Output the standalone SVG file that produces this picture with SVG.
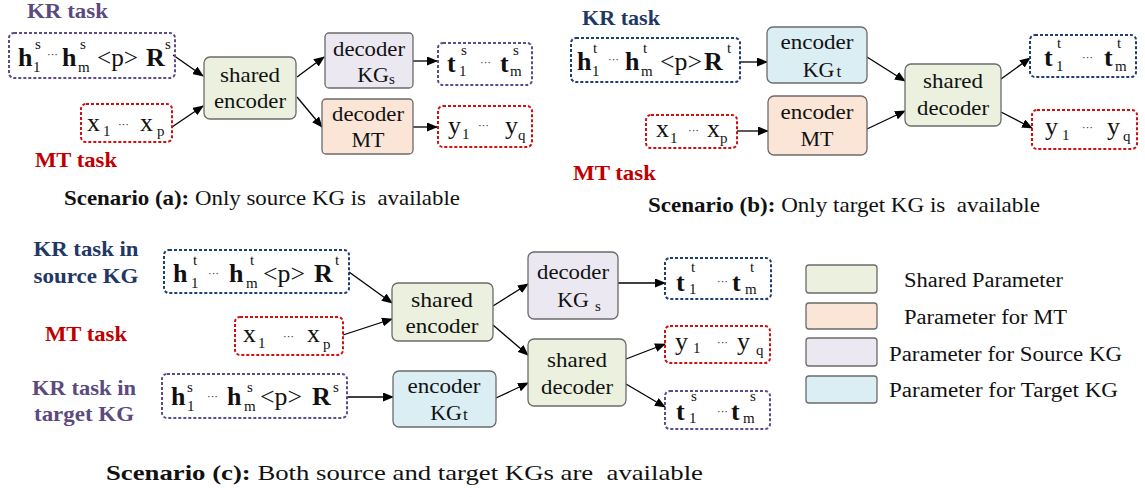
<svg xmlns="http://www.w3.org/2000/svg" width="1145" height="497" viewBox="0 0 1145 497" font-family="'Times New Roman', 'Liberation Serif', Tinos, 'DejaVu Serif', serif">
<defs>
<marker id="ah" markerUnits="userSpaceOnUse" markerWidth="11" markerHeight="9" refX="10" refY="4.5" orient="auto">
<path d="M0,0 L11,4.5 L0,9 z" fill="#000"/>
</marker>
<style>
text{font-family:'Times New Roman','Liberation Serif',Tinos,'DejaVu Serif',serif;fill:#111}
.box{stroke:#6b6b6b;stroke-width:1.3}
.g{fill:#ebf1de}.o{fill:#fbe5d6}.p{fill:#ebe8f1}.b{fill:#dbeef4}
.dp,.db,.dr{fill:none;stroke-width:2;stroke-dasharray:3 2}
.dp{stroke:#5f4b8b}.db{stroke:#203d72}.dr{stroke:#d01010}
.lbl{font-size:22px;text-anchor:middle}
.m{font-size:26px}
.bd{font-weight:bold}
.sm{font-size:15px}
.dots{font-size:11px}
.task{font-size:21px;font-weight:bold}
.tp{fill:#5b4a7e}.tb{fill:#1f3864}.tr{fill:#c00000}
.cap{font-size:21px}
.leg{font-size:20px}
#conn line{stroke:#000;stroke-width:1.3;marker-end:url(#ah)}
</style>
</defs>
<rect width="1145" height="497" fill="#fff"/>

<g id="conn">
<line x1="173" y1="55" x2="203" y2="76"/>
<line x1="172" y1="127" x2="203" y2="106"/>
<line x1="297" y1="77" x2="324" y2="57"/>
<line x1="297" y1="97" x2="322" y2="127"/>
<line x1="413" y1="61" x2="437" y2="61"/>
<line x1="413" y1="127" x2="437" y2="127"/>

<line x1="740" y1="62" x2="767" y2="62"/>
<line x1="737" y1="131" x2="768" y2="131"/>
<line x1="867" y1="57" x2="905" y2="81"/>
<line x1="867" y1="129" x2="905" y2="111"/>
<line x1="1001" y1="79" x2="1030" y2="58"/>
<line x1="1001" y1="112" x2="1032" y2="128"/>

<line x1="349" y1="272" x2="392" y2="303"/>
<line x1="343" y1="335" x2="392" y2="319"/>
<line x1="347" y1="397" x2="393" y2="397"/>
<line x1="493" y1="306" x2="528" y2="284"/>
<line x1="493" y1="325" x2="528" y2="355"/>
<line x1="496" y1="398" x2="528" y2="383"/>
<line x1="618" y1="283" x2="665" y2="283"/>
<line x1="626" y1="359" x2="665" y2="344"/>
<line x1="626" y1="384" x2="665" y2="407"/>
</g>

<!-- Scenario (a) -->
<g id="a-kr-label"><text class="task tp" x="27" y="18" textLength="81" lengthAdjust="spacingAndGlyphs">KR task</text></g>
<g id="a-mt-label"><text class="task tr" x="35" y="167" textLength="82" lengthAdjust="spacingAndGlyphs">MT task</text></g>
<g id="a-kr-in">
<rect class="dp" x="9" y="33" width="166" height="45" rx="5"/>
<text class="m bd" x="18" y="66">h</text><text class="sm" x="33" y="72">1</text><text class="sm" x="35" y="49">s</text>
<text class="dots" x="47" y="58">···</text>
<text class="m bd" x="62" y="66">h</text><text class="sm" x="78" y="72">m</text><text class="sm" x="80" y="49">s</text>
<text class="m" x="97" y="66" textLength="41" lengthAdjust="spacingAndGlyphs">&lt;p&gt;</text>
<text class="m bd" x="146" y="66">R</text><text class="sm" x="165" y="49">s</text>
</g>
<g id="a-mt-in">
<rect class="dr" x="81" y="104" width="91" height="38" rx="5"/>
<text class="m" x="87" y="131">x</text><text class="sm" x="103" y="136">1</text>
<text class="dots" x="118" y="128">···</text>
<text class="m" x="140" y="131">x</text><text class="sm" x="157" y="136">p</text>
</g>
<g id="a-shared-enc">
<rect class="box g" x="204" y="57" width="92" height="62" rx="6"/>
<text class="lbl" x="250" y="82" textLength="60" lengthAdjust="spacingAndGlyphs">shared</text><text class="lbl" x="250" y="108" textLength="72" lengthAdjust="spacingAndGlyphs">encoder</text>
</g>
<g id="a-dec-kg">
<rect class="box p" x="325" y="33" width="88" height="55" rx="4"/>
<text class="lbl" x="369" y="56" textLength="72" lengthAdjust="spacingAndGlyphs">decoder</text>
<text class="lbl" x="376" y="82">KG<tspan font-size="15" dy="2">s</tspan></text>
</g>
<g id="a-dec-mt">
<rect class="box o" x="322" y="99" width="91" height="55" rx="4"/>
<text class="lbl" x="368" y="121" textLength="72" lengthAdjust="spacingAndGlyphs">decoder</text><text class="lbl" x="368" y="147">MT</text>
</g>
<g id="a-t-out">
<rect class="dp" x="438" y="43" width="94" height="42" rx="5"/>
<text class="m bd" x="447" y="72">t</text><text class="sm" x="459" y="76">1</text><text class="sm" x="461" y="55">s</text>
<text class="dots" x="480" y="66">···</text>
<text class="m bd" x="500" y="72">t</text><text class="sm" x="510" y="76">m</text><text class="sm" x="513" y="55">s</text>
</g>
<g id="a-y-out">
<rect class="dr" x="438" y="106" width="94" height="41" rx="5"/>
<text class="m" x="448" y="134">y</text><text class="sm" x="462" y="139">1</text>
<text class="dots" x="478" y="129">···</text>
<text class="m" x="505" y="134">y</text><text class="sm" x="518" y="140">q</text>
</g>
<g id="a-caption"><text class="cap" x="64" y="205" textLength="396" lengthAdjust="spacingAndGlyphs"><tspan font-weight="bold">Scenario (a):</tspan> Only source KG is&#160; available</text></g>

<!-- Scenario (b) -->
<g id="b-kr-label"><text class="task tb" x="582" y="25" textLength="78" lengthAdjust="spacingAndGlyphs">KR task</text></g>
<g id="b-mt-label"><text class="task tr" x="573" y="180" textLength="83" lengthAdjust="spacingAndGlyphs">MT task</text></g>
<g id="b-kr-in">
<rect class="db" x="571" y="38" width="169" height="44" rx="5"/>
<text class="m bd" x="577" y="70">h</text><text class="sm" x="592" y="76">1</text><text class="sm" x="593" y="53">t</text>
<text class="dots" x="608" y="63">···</text>
<text class="m bd" x="625" y="70">h</text><text class="sm" x="641" y="76">m</text><text class="sm" x="643" y="53">t</text>
<text class="m" x="660" y="70" textLength="42" lengthAdjust="spacingAndGlyphs">&lt;p&gt;</text>
<text class="m bd" x="704" y="70">R</text><text class="sm" x="727" y="53">t</text>
</g>
<g id="b-mt-in">
<rect class="dr" x="646" y="115" width="91" height="33" rx="5"/>
<text class="m" x="656" y="137">x</text><text class="sm" x="670" y="143">1</text>
<text class="dots" x="688" y="134">···</text>
<text class="m" x="707" y="137">x</text><text class="sm" x="720" y="143">p</text>
</g>
<g id="b-enc-kg">
<rect class="box b" x="767" y="27" width="100" height="56" rx="6"/>
<text class="lbl" x="817" y="49" textLength="73" lengthAdjust="spacingAndGlyphs">encoder</text>
<text class="lbl" x="822" y="77">KG<tspan font-size="17" dx="2">t</tspan></text>
</g>
<g id="b-enc-mt">
<rect class="box o" x="768" y="96" width="99" height="59" rx="6"/>
<text class="lbl" x="817" y="119" textLength="73" lengthAdjust="spacingAndGlyphs">encoder</text><text class="lbl" x="817" y="146">MT</text>
</g>
<g id="b-shared-dec">
<rect class="box g" x="905" y="64" width="96" height="62" rx="6"/>
<text class="lbl" x="953" y="88" textLength="60" lengthAdjust="spacingAndGlyphs">shared</text><text class="lbl" x="953" y="115" textLength="72" lengthAdjust="spacingAndGlyphs">decoder</text>
</g>
<g id="b-t-out">
<rect class="db" x="1030" y="35" width="106" height="42" rx="5"/>
<text class="m bd" x="1044" y="66">t</text><text class="sm" x="1056" y="71">1</text><text class="sm" x="1057" y="48">t</text>
<text class="dots" x="1082" y="61">···</text>
<text class="m bd" x="1104" y="66">t</text><text class="sm" x="1115" y="71">m</text><text class="sm" x="1117" y="48">t</text>
</g>
<g id="b-y-out">
<rect class="dr" x="1032" y="110" width="105" height="39" rx="5"/>
<text class="m" x="1045" y="135">y</text><text class="sm" x="1062" y="140">1</text>
<text class="dots" x="1082" y="131">···</text>
<text class="m" x="1107" y="135">y</text><text class="sm" x="1123" y="141">q</text>
</g>
<g id="b-caption"><text class="cap" x="648" y="212" textLength="392" lengthAdjust="spacingAndGlyphs"><tspan font-weight="bold">Scenario (b):</tspan> Only target KG is&#160; available</text></g>

<!-- Scenario (c) -->
<g id="c-kr-src-label"><text class="task tb" x="86" y="256" text-anchor="middle" textLength="105" lengthAdjust="spacingAndGlyphs">KR task in</text><text class="task tb" x="86" y="283" text-anchor="middle" textLength="105" lengthAdjust="spacingAndGlyphs">source KG</text></g>
<g id="c-mt-label"><text class="task tr" x="45" y="341" textLength="82" lengthAdjust="spacingAndGlyphs">MT task</text></g>
<g id="c-kr-tgt-label"><text class="task tp" x="84" y="395" text-anchor="middle" textLength="104" lengthAdjust="spacingAndGlyphs">KR task in</text><text class="task tp" x="84" y="421" text-anchor="middle" textLength="100" lengthAdjust="spacingAndGlyphs">target KG</text></g>
<g id="c-kr-src-in">
<rect class="db" x="164" y="250" width="185" height="43" rx="5"/>
<text class="m bd" x="173" y="282">h</text><text class="sm" x="191" y="288">1</text><text class="sm" x="193" y="265">t</text>
<text class="dots" x="208" y="277">···</text>
<text class="m bd" x="229" y="282">h</text><text class="sm" x="246" y="288">m</text><text class="sm" x="250" y="265">t</text>
<text class="m" x="263" y="282" textLength="42" lengthAdjust="spacingAndGlyphs">&lt;p&gt;</text>
<text class="m bd" x="314" y="282">R</text><text class="sm" x="335" y="265">t</text>
</g>
<g id="c-mt-in">
<rect class="dr" x="235" y="317" width="108" height="38" rx="5"/>
<text class="m" x="243" y="342">x</text><text class="sm" x="258" y="348">1</text>
<text class="dots" x="283" y="340">···</text>
<text class="m" x="307" y="342">x</text><text class="sm" x="323" y="349">p</text>
</g>
<g id="c-kr-tgt-in">
<rect class="dp" x="162" y="374" width="185" height="44" rx="5"/>
<text class="m bd" x="171" y="405">h</text><text class="sm" x="187" y="411">1</text><text class="sm" x="187" y="392">s</text>
<text class="dots" x="207" y="400">···</text>
<text class="m bd" x="227" y="405">h</text><text class="sm" x="244" y="411">m</text><text class="sm" x="247" y="392">s</text>
<text class="m" x="260" y="405" textLength="42" lengthAdjust="spacingAndGlyphs">&lt;p&gt;</text>
<text class="m bd" x="312" y="405">R</text><text class="sm" x="333" y="392">s</text>
</g>
<g id="c-shared-enc">
<rect class="box g" x="392" y="283" width="101" height="58" rx="6"/>
<text class="lbl" x="442" y="307" textLength="62" lengthAdjust="spacingAndGlyphs">shared</text><text class="lbl" x="442" y="333" textLength="73" lengthAdjust="spacingAndGlyphs">encoder</text>
</g>
<g id="c-enc-kg">
<rect class="box b" x="393" y="371" width="103" height="56" rx="6"/>
<text class="lbl" x="444" y="393" textLength="73" lengthAdjust="spacingAndGlyphs">encoder</text>
<text class="lbl" x="449" y="420">KG<tspan font-size="17" dx="1">t</tspan></text>
</g>
<g id="c-dec-kg">
<rect class="box p" x="528" y="252" width="90" height="67" rx="6"/>
<text class="lbl" x="573" y="279" textLength="72" lengthAdjust="spacingAndGlyphs">decoder</text>
<text class="lbl" x="579" y="307">KG<tspan font-size="15" dx="6" dy="4">s</tspan></text>
</g>
<g id="c-shared-dec">
<rect class="box g" x="528" y="339" width="98" height="67" rx="6"/>
<text class="lbl" x="577" y="367" textLength="60" lengthAdjust="spacingAndGlyphs">shared</text><text class="lbl" x="577" y="394" textLength="72" lengthAdjust="spacingAndGlyphs">decoder</text>
</g>
<g id="c-t-src-out">
<rect class="db" x="665" y="258" width="106" height="41" rx="5"/>
<text class="m bd" x="676" y="291">t</text><text class="sm" x="689" y="294">1</text><text class="sm" x="691" y="272">t</text>
<text class="dots" x="717" y="285">···</text>
<text class="m bd" x="732" y="291">t</text><text class="sm" x="745" y="294">m</text><text class="sm" x="750" y="272">t</text>
</g>
<g id="c-y-out">
<rect class="dr" x="665" y="326" width="105" height="37" rx="5"/>
<text class="m" x="675" y="350">y</text><text class="sm" x="693" y="353">1</text>
<text class="dots" x="717" y="346">···</text>
<text class="m" x="737" y="350">y</text><text class="sm" x="756" y="355">q</text>
</g>
<g id="c-t-tgt-out">
<rect class="dp" x="665" y="391" width="105" height="38" rx="5"/>
<text class="m bd" x="676" y="420">t</text><text class="sm" x="689" y="423">1</text><text class="sm" x="691" y="401">s</text>
<text class="dots" x="717" y="415">···</text>
<text class="m bd" x="731" y="420">t</text><text class="sm" x="743" y="423">m</text><text class="sm" x="750" y="401">s</text>
</g>
<g id="c-caption"><text class="cap" x="106" y="480" textLength="597" lengthAdjust="spacingAndGlyphs"><tspan font-weight="bold">Scenario (c):</tspan> Both source and target KGs are&#160; available</text></g>

<!-- Legend -->
<g id="legend-shared"><rect class="box g" x="806" y="265" width="71" height="28" rx="3"/><text class="leg" x="904" y="287" textLength="159" lengthAdjust="spacingAndGlyphs">Shared Parameter</text></g>
<g id="legend-mt"><rect class="box o" x="806" y="303" width="71" height="26" rx="3"/><text class="leg" x="904" y="324" textLength="163" lengthAdjust="spacingAndGlyphs">Parameter for MT</text></g>
<g id="legend-source"><rect class="box p" x="806" y="338" width="71" height="28" rx="3"/><text class="leg" x="889" y="361" textLength="233" lengthAdjust="spacingAndGlyphs">Parameter for Source KG</text></g>
<g id="legend-target"><rect class="box b" x="806" y="376" width="71" height="27" rx="3"/><text class="leg" x="889" y="397" textLength="229" lengthAdjust="spacingAndGlyphs">Parameter for Target KG</text></g>
</svg>
